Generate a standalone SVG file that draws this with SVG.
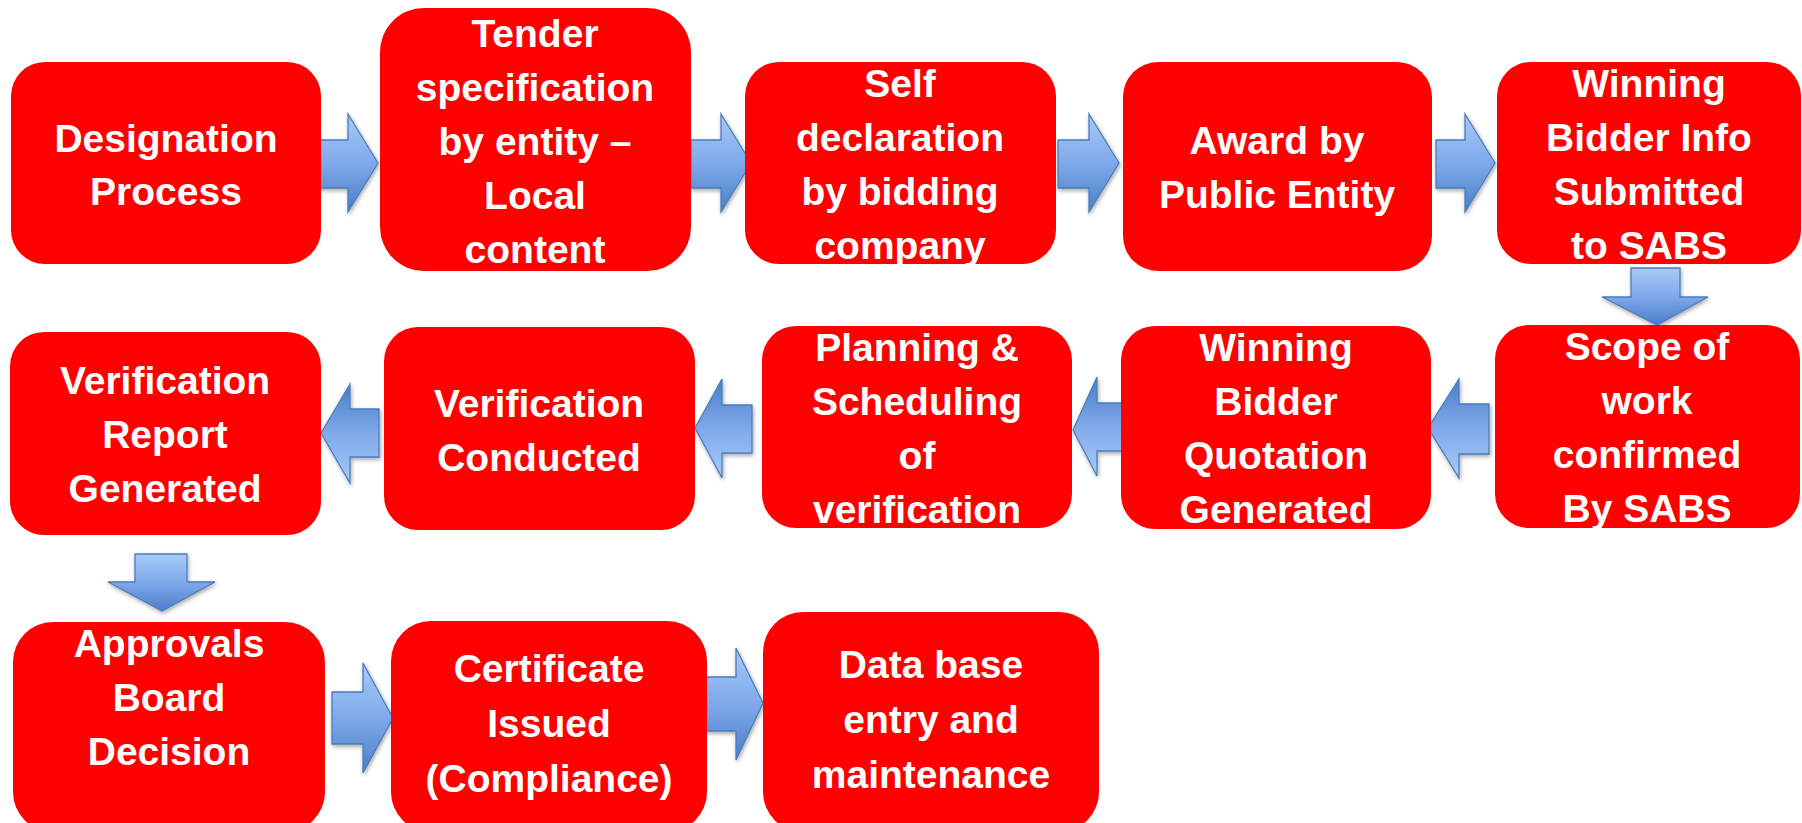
<svg xmlns="http://www.w3.org/2000/svg" width="1802" height="823" viewBox="0 0 1802 823">
<defs>
<linearGradient id="gLight" x1="0" y1="0" x2="0" y2="1">
<stop offset="0" stop-color="#A8CAF9"/>
<stop offset="0.5" stop-color="#7FA9EA"/>
<stop offset="1" stop-color="#4A7DC8"/>
</linearGradient>
<linearGradient id="gDark" x1="0" y1="0" x2="0" y2="1">
<stop offset="0" stop-color="#4A7DC8"/>
<stop offset="0.5" stop-color="#7FA9EA"/>
<stop offset="1" stop-color="#A8CAF9"/>
</linearGradient>
<filter id="sh" x="-20%" y="-20%" width="140%" height="140%">
<feDropShadow dx="1" dy="2" stdDeviation="2" flood-color="#000" flood-opacity="0.35"/>
</filter>
<style>
.box{fill:#FF0000;}
.lbl{fill:#FFFFFF;font-family:"Liberation Sans",Arial,sans-serif;font-weight:bold;font-size:39px;text-anchor:middle;}
.ar{stroke:#4A7EBB;stroke-width:1.3;stroke-linejoin:miter;filter:url(#sh);}
.r{fill:url(#gLight);}
.l{fill:url(#gDark);}
.d{fill:url(#gLight);}
</style>
</defs>
<rect x="0" y="0" width="1802" height="823" fill="#FFFFFF"/>

<g id="connectors">
<path class="ar r" d="M318,140 H348 V114 L378,163 L348,212 V188 H318 Z"/>
<path class="ar r" d="M691,140 H721 V114 L751,163 L721,212 V188 H691 Z"/>
<path class="ar r" d="M1058,140 H1089 V114 L1119,163 L1089,212 V188 H1058 Z"/>
<path class="ar r" d="M1436,140 H1465 V114 L1495,163 L1465,212 V188 H1436 Z"/>
<path class="ar d" d="M1631,268 H1680 V297 H1708 L1657,325 L1602,297 H1631 Z"/>
<path class="ar l" d="M1489,404 H1459 V379 L1428,428 L1459,478 V454 H1489 Z"/>
<path class="ar l" d="M1125,403 H1097 V377 L1073,430 L1097,476 V451 H1125 Z"/>
<path class="ar l" d="M752,405 H722 V379 L695,428 L722,478 V453 H752 Z"/>
<path class="ar l" d="M379,409 H350 V384 L321,433 L350,483 V457 H379 Z"/>
<path class="ar d" d="M135,554 H187 V582 H215 L162,611 L108,582 H135 Z"/>
<path class="ar r" d="M332,692 H363 V663 L393,718 L363,773 V744 H332 Z"/>
<path class="ar r" d="M706,677 H736 V648 L763,703 L736,760 V731 H706 Z"/>
</g>

<g id="n1">
<rect class="box" x="11" y="62" width="310" height="202" rx="34"/>
<text class="lbl"><tspan x="166" y="152">Designation</tspan><tspan x="166" y="205">Process</tspan></text>
</g>
<g id="n2">
<rect class="box" x="380" y="8" width="311" height="263" rx="44"/>
<text class="lbl"><tspan x="535" y="47">Tender</tspan><tspan x="535" y="101">specification</tspan><tspan x="535" y="155">by entity –</tspan><tspan x="535" y="209">Local</tspan><tspan x="535" y="263">content</tspan></text>
</g>
<g id="n3">
<rect class="box" x="745" y="62" width="311" height="202" rx="34"/>
<text class="lbl"><tspan x="900" y="97">Self</tspan><tspan x="900" y="151">declaration</tspan><tspan x="900" y="205">by bidding</tspan><tspan x="900" y="259">company</tspan></text>
</g>
<g id="n4">
<rect class="box" x="1123" y="62" width="309" height="209" rx="35"/>
<text class="lbl"><tspan x="1277" y="154">Award by</tspan><tspan x="1277" y="208">Public Entity</tspan></text>
</g>
<g id="n5">
<rect class="box" x="1497" y="62" width="304" height="202" rx="34"/>
<text class="lbl"><tspan x="1649" y="97">Winning</tspan><tspan x="1649" y="151">Bidder Info</tspan><tspan x="1649" y="205">Submitted</tspan><tspan x="1649" y="259">to SABS</tspan></text>
</g>

<g id="n6">
<rect class="box" x="10" y="332" width="311" height="203" rx="34"/>
<text class="lbl"><tspan x="165" y="394">Verification</tspan><tspan x="165" y="448">Report</tspan><tspan x="165" y="502">Generated</tspan></text>
</g>
<g id="n7">
<rect class="box" x="384" y="327" width="311" height="203" rx="34"/>
<text class="lbl"><tspan x="539" y="417">Verification</tspan><tspan x="539" y="471">Conducted</tspan></text>
</g>
<g id="n8">
<rect class="box" x="762" y="326" width="310" height="202" rx="34"/>
<text class="lbl"><tspan x="917" y="361">Planning &amp;</tspan><tspan x="917" y="415">Scheduling</tspan><tspan x="917" y="469">of</tspan><tspan x="917" y="523">verification</tspan></text>
</g>
<g id="n9">
<rect class="box" x="1121" y="326" width="310" height="203" rx="34"/>
<text class="lbl"><tspan x="1276" y="361">Winning</tspan><tspan x="1276" y="415">Bidder</tspan><tspan x="1276" y="469">Quotation</tspan><tspan x="1276" y="523">Generated</tspan></text>
</g>
<g id="n10">
<rect class="box" x="1495" y="325" width="305" height="203" rx="34"/>
<text class="lbl"><tspan x="1647" y="360">Scope of</tspan><tspan x="1647" y="414">work</tspan><tspan x="1647" y="468">confirmed</tspan><tspan x="1647" y="522">By SABS</tspan></text>
</g>

<g id="n11">
<rect class="box" x="13" y="622" width="312" height="210" rx="40"/>
<text class="lbl"><tspan x="169" y="657">Approvals</tspan><tspan x="169" y="711">Board</tspan><tspan x="169" y="765">Decision</tspan></text>
</g>
<g id="n12">
<rect class="box" x="391" y="621" width="316" height="211" rx="40"/>
<text class="lbl"><tspan x="549" y="682">Certificate</tspan><tspan x="549" y="737">Issued</tspan><tspan x="549" y="792">(Compliance)</tspan></text>
</g>
<g id="n13">
<rect class="box" x="763" y="612" width="336" height="220" rx="40"/>
<text class="lbl"><tspan x="931" y="678">Data base</tspan><tspan x="931" y="733">entry and</tspan><tspan x="931" y="788">maintenance</tspan></text>
</g>
</svg>
